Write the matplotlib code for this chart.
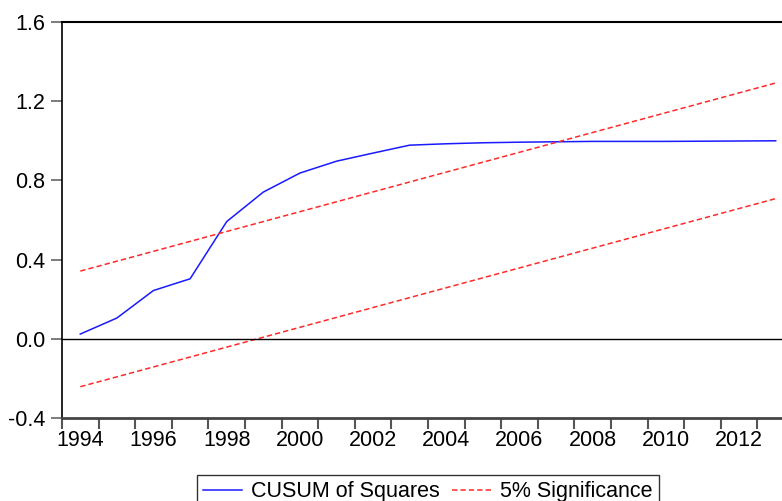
import matplotlib
matplotlib.use("Agg")
import matplotlib.pyplot as plt
from matplotlib.ticker import FixedLocator, NullFormatter

plt.rcParams['font.family'] = ['Liberation Sans', 'DejaVu Sans']
plt.rcParams['axes.unicode_minus'] = False

years = [1994, 1995, 1996, 1997, 1998, 1999, 2000, 2001, 2002, 2003,
         2004, 2005, 2006, 2007, 2008, 2009, 2010, 2011, 2012, 2013]
cusum_sq = [0.024, 0.105, 0.244, 0.303, 0.592, 0.741, 0.837, 0.897, 0.938, 0.978,
            0.985, 0.990, 0.993, 0.995, 0.997, 0.997, 0.997, 0.998, 0.999, 1.000]
upper = [0.342, 0.392, 0.442, 0.492, 0.542, 0.592, 0.642, 0.692, 0.742, 0.792,
         0.842, 0.892, 0.942, 0.992, 1.042, 1.092, 1.142, 1.192, 1.242, 1.292]
lower = [-0.242, -0.192, -0.142, -0.092, -0.042, 0.008, 0.058, 0.108, 0.158, 0.208,
         0.258, 0.308, 0.358, 0.408, 0.458, 0.508, 0.558, 0.608, 0.658, 0.708]
yticks = [-0.4, 0.0, 0.4, 0.8, 1.2, 1.6]
xlabels = [1994, 1996, 1998, 2000, 2002, 2004, 2006, 2008, 2010, 2012]

W, H = 782, 501
fs = 15.5
fig = plt.figure(figsize=(W / 100, H / 100), dpi=100)
ax = fig.add_axes([62 / W, 83 / H, (794 - 62) / W, (418 - 22) / H])

ax.plot(years, cusum_sq, color='#1a1aff', lw=1.1, label='CUSUM of Squares')
ax.plot(years, upper, color='#ff2a2a', lw=1.1, dashes=(3.5, 2), label='5% Significance')
ax.plot(years, lower, color='#ff2a2a', lw=1.1, dashes=(3.5, 2))
ax.axhline(0, color='black', lw=1)

ax.set_xlim(1993.5, 2013.5)
ax.set_ylim(-0.4, 1.6)

# year boundaries get the ticks, even years get labels in the middle
ax.xaxis.set_major_locator(FixedLocator([y - 0.5 for y in years] + [2013.5]))
ax.xaxis.set_major_formatter(NullFormatter())
ax.xaxis.set_minor_locator(FixedLocator(xlabels))
ax.set_xticklabels([str(y) for y in xlabels], minor=True)
ax.tick_params(axis='x', which='major', direction='out', length=8, width=1.5, color='#555555')
ax.tick_params(axis='x', which='minor', length=0, pad=9, labelsize=fs)

ax.set_yticks(yticks)
ax.set_yticklabels(['%.1f' % v for v in yticks])
ax.tick_params(axis='y', direction='out', length=8, width=1.2, color='#666666', pad=4, labelsize=fs)

ax.spines['right'].set_visible(False)
ax.spines['top'].set_linewidth(1.5)
ax.spines['left'].set_linewidth(1.2)
ax.spines['bottom'].set_linewidth(2)
ax.spines['bottom'].set_color('#444444')

leg = fig.legend(loc='upper left', bbox_to_anchor=(197 / W, 1 - 475 / H), ncol=2,
                 fontsize=fs, frameon=True, fancybox=False, edgecolor='black',
                 handlelength=1.8, handletextpad=0.4, columnspacing=0.6,
                 borderpad=0.3, borderaxespad=0)
leg.get_frame().set_linewidth(1)

fig.savefig('out.png', dpi=100)
